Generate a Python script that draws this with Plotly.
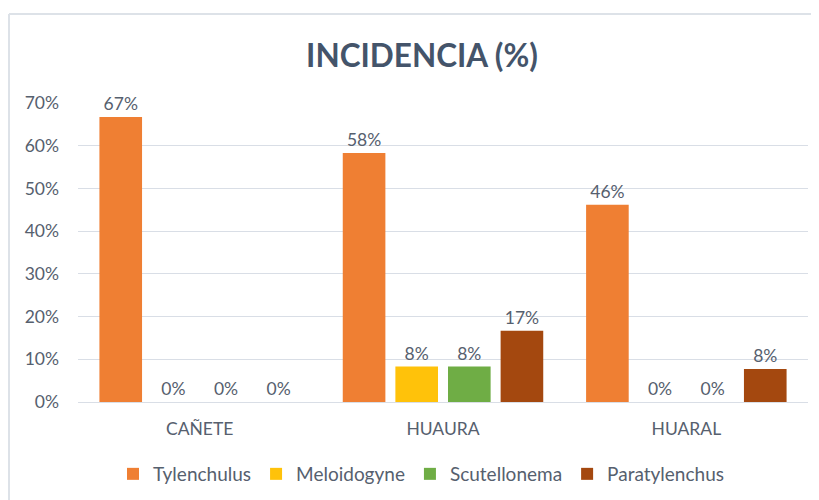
import plotly.graph_objects as go

categories = ["CAÑETE", "HUAURA", "HUARAL"]
series_names = ["Tylenchulus", "Meloidogyne", "Scutellonema", "Paratylenchus"]
tylenchulus = [0.667, 0.583, 0.462]
meloidogyne = [0.0, 0.083, 0.0]
scutellonema = [0.0, 0.083, 0.0]
paratylenchus = [0.0, 0.167, 0.077]
colors = ["#EF7F33", "#FFC20A", "#6FAD45", "#A4480F"]

values = [tylenchulus, meloidogyne, scutellonema, paratylenchus]

FONT = "Lato"
TXT = "#56606E"

# page body has an 8px margin; figure is placed at (8, 8)
OFF = 8
W, H = 819 - OFF, 500 - OFF

fig = go.Figure()
for name, vals, c in zip(series_names, values, colors):
    fig.add_trace(go.Bar(
        x=categories, y=vals, name=name,
        marker=dict(color=c, line=dict(width=0)),
        texttemplate="%{y:.0%}", textposition="outside",
        textfont=dict(family=FONT, size=17.5, color=TXT),
        cliponaxis=False,
    ))

# plot area in window px: x 78..808, y 103..402
ml = 78 - OFF
mr = W - (808 - OFF)
mt = 103 - OFF
mb = H - (402 - OFF)
pw, ph = W - ml - mr, H - mt - mb

def px_x(p):
    return (p - OFF - ml) / pw

def px_y(p):
    return (H - mb - (p - OFF)) / ph

fig.update_layout(
    width=W, height=H,
    margin=dict(l=ml, r=mr, t=mt, b=mb, autoexpand=False),
    paper_bgcolor="white", plot_bgcolor="white",
    barmode="group", bargap=0.135, bargroupgap=0.19,
    title=dict(text="<b>INCIDENCIA (%)</b>", x=px_x(422), xanchor="center",
               xref="paper",
               y=1 - (56 - OFF) / H, yanchor="middle",
               font=dict(family=FONT, size=31.5, color="#44546A")),
    xaxis=dict(showgrid=False, showline=True, linecolor="#D9DEE6", linewidth=1,
               ticks="", ticklabelstandoff=11,
               tickfont=dict(family=FONT, size=17.5, color=TXT)),
    yaxis=dict(range=[0, 0.7], dtick=0.1, tickformat=".0%",
               showgrid=True, gridcolor="#D9DEE6", gridwidth=1,
               zeroline=False, showline=False, ticks="",
               ticklabelstandoff=18,
               tickfont=dict(family=FONT, size=17.5, color=TXT)),
    legend=dict(orientation="h", x=px_x(113), xanchor="left",
                y=px_y(474), yanchor="middle",
                font=dict(family=FONT, size=19, color=TXT),
                itemwidth=30, traceorder="normal"),
    showlegend=True,
    shapes=[
        dict(type="line", xref="paper", yref="paper",
             x0=px_x(9), x1=px_x(830), y0=px_y(14), y1=px_y(14),
             line=dict(color="#DDE2E8", width=2)),
        dict(type="line", xref="paper", yref="paper",
             x0=px_x(9), x1=px_x(9), y0=px_y(14), y1=px_y(510),
             line=dict(color="#DDE2E8", width=2)),
    ],
)

fig.write_html("out.html")
